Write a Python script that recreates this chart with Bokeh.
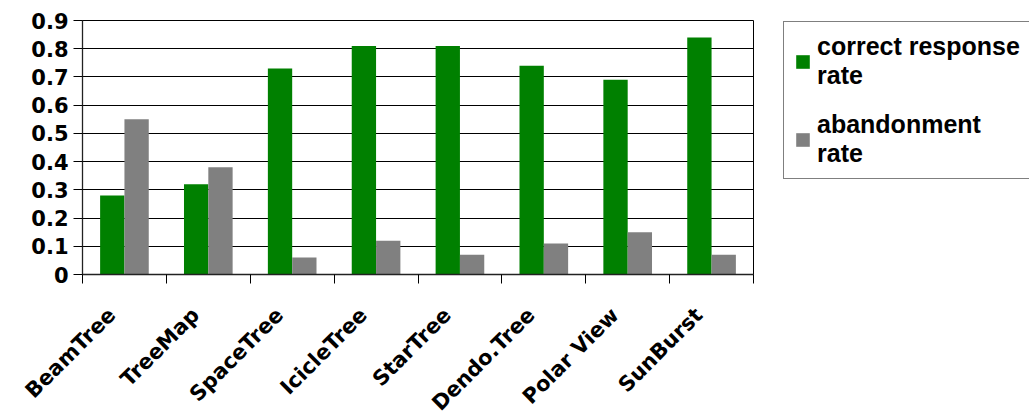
from math import pi
from bokeh.plotting import figure
from bokeh.models import FixedTicker, Legend, LegendItem, Range1d, ColumnDataSource
from bokeh.transform import dodge
from bokeh.embed import file_html
from bokeh.resources import INLINE

categories = ["BeamTree", "TreeMap", "SpaceTree", "IcicleTree", "StarTree",
              "Dendo.Tree", "Polar View", "SunBurst"]
correct_response_rate = [0.28, 0.32, 0.73, 0.81, 0.81, 0.74, 0.69, 0.84]
abandonment_rate = [0.55, 0.38, 0.06, 0.12, 0.07, 0.11, 0.15, 0.07]
y_ticks = [0, 0.1, 0.2, 0.3, 0.4, 0.5, 0.6, 0.7, 0.8, 0.9]
y_tick_labels = ["0", "0.1", "0.2", "0.3", "0.4", "0.5", "0.6", "0.7", "0.8", "0.9"]

positions = list(range(1, len(categories) + 1))
boundaries = [i + 0.5 for i in range(len(categories) + 1)]
# rotated labels are anchored a little left of each group's centre
label_anchor = [pos - 0.15 for pos in positions]

src = ColumnDataSource(dict(x=positions, correct=correct_response_rate,
                            abandon=abandonment_rate))

AXIS_FONT = "DejaVu Sans"
LEGEND_FONT = "Liberation Sans"

p = figure(frame_width=671, frame_height=254,
           x_range=Range1d(0.5, len(categories) + 0.5), y_range=Range1d(0, 0.9),
           output_backend="svg", toolbar_location=None,
           min_border_left=82, min_border_top=20, min_border_bottom=146,
           min_border_right=276)

r1 = p.vbar(x=dodge("x", -0.145), top="correct", width=0.29, source=src,
            fill_color="#008000", line_color=None)
r2 = p.vbar(x=dodge("x", 0.145), top="abandon", width=0.29, source=src,
            fill_color="#808080", line_color=None)

p.outline_line_color = "black"
p.xgrid.grid_line_color = None
p.ygrid.grid_line_color = "black"
p.ygrid.grid_line_width = 1

xa = p.xaxis[0]
xa.ticker = FixedTicker(ticks=label_anchor, minor_ticks=boundaries)
xa.major_label_overrides = {a: name for a, name in zip(label_anchor, categories)}
xa.major_label_orientation = pi / 4
xa.major_tick_line_color = None
xa.minor_tick_line_color = "black"
xa.minor_tick_out = 9
xa.minor_tick_in = 0
xa.axis_line_color = "#222222"
xa.axis_line_width = 1.3
xa.major_label_text_font = AXIS_FONT
xa.major_label_text_font_style = "bold"
xa.major_label_text_font_size = "21px"
xa.major_label_text_color = "black"
xa.major_label_standoff = 28

ya = p.yaxis[0]
ya.ticker = FixedTicker(ticks=y_ticks, minor_ticks=[])
ya.major_label_overrides = {t: l for t, l in zip(y_ticks, y_tick_labels)}
ya.major_tick_line_color = "black"
ya.major_tick_out = 9
ya.major_tick_in = 0
ya.axis_line_color = "#222222"
ya.axis_line_width = 1.3
ya.major_label_text_font = AXIS_FONT
ya.major_label_text_font_style = "bold"
ya.major_label_text_font_size = "21px"
ya.major_label_text_color = "black"
ya.major_label_standoff = 5

legend = Legend(items=[LegendItem(label="correct response\nrate", renderers=[r1]),
                       LegendItem(label="abandonment\nrate", renderers=[r2])],
                location=(30, 95))
legend.margin = 0
legend.padding = 10
legend.spacing = 20
legend.glyph_width = 17
legend.glyph_height = 17
legend.label_standoff = 6
legend.label_text_font = LEGEND_FONT
legend.label_text_font_style = "bold"
legend.label_text_font_size = "25px"
legend.label_text_line_height = 1.2
legend.label_text_color = "black"
legend.border_line_color = "black"
legend.border_line_width = 1
legend.background_fill_color = "white"
p.add_layout(legend, "right")

open("out.html", "w").write(file_html(p, INLINE))
